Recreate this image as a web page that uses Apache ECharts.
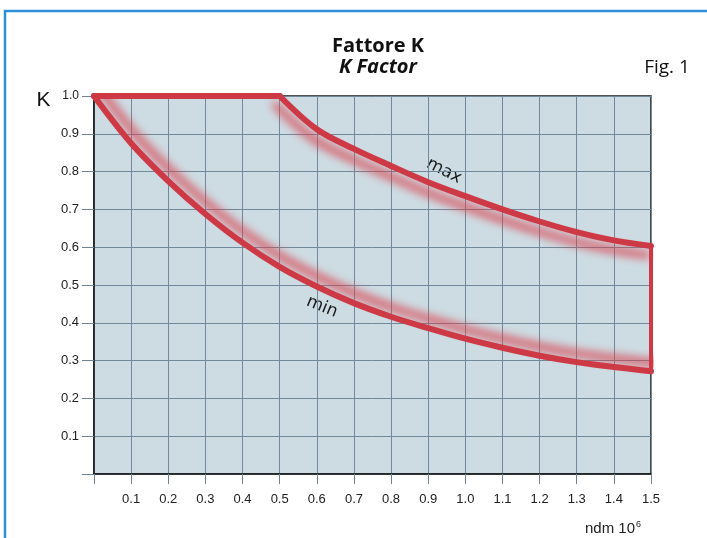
<!DOCTYPE html>
<html><head><meta charset="utf-8">
<script src="https://cdn.jsdelivr.net/npm/echarts@6/dist/echarts.min.js"></script>
<style>html,body{margin:0;padding:0;background:#fff}#c{width:707px;height:538px}</style>
</head><body><div id="c"></div>
<script>
const xTicks = [0,0.1,0.2,0.3,0.4,0.5,0.6,0.7,0.8,0.9,1.0,1.1,1.2,1.3,1.4,1.5];
const minK = [1.0,0.875,0.775,0.688,0.612,0.548,0.496,0.452,0.416,0.386,0.358,0.334,0.313,0.296,0.283,0.272];
const maxK = [1.0,1.0,1.0,1.0,1.0,1.0,0.912,0.86,0.815,0.772,0.735,0.70,0.668,0.64,0.618,0.603];
const yTicks = [0,0.1,0.2,0.3,0.4,0.5,0.6,0.7,0.8,0.9,1.0];

const RED = '#cd3a46';
const minData = xTicks.map((x,i)=>[x,minK[i]]);
const maxAll = xTicks.map((x,i)=>[x,maxK[i]]);
const flatData = maxAll.filter(p=>p[0]<=0.5+1e-9);
const maxData = maxAll.filter(p=>p[0]>=0.5-1e-9);
const endData = [[xTicks[xTicks.length-1], maxK[maxK.length-1]],[xTicks[xTicks.length-1], minK[minK.length-1]]];

const chart = echarts.init(document.getElementById('c'));
const fmt = v => Math.abs(v)<1e-9 ? '' : (+v).toFixed(1);
const lbl = {fontFamily:'Liberation Sans', fontSize:13, color:'#222'};
chart.setOption({
  animation:false,
  title:{
    text:'Fattore K', subtext:'K Factor', left:373, top:31, textAlign:'center', itemGap:1,
    textStyle:{fontFamily:'Open Sans', fontWeight:'bold', fontSize:20, color:'#111'},
    subtextStyle:{fontFamily:'Open Sans', fontWeight:'bold', fontStyle:'italic', fontSize:20, color:'#111'}
  },
  grid:{left:94, right:56, top:96, bottom:64, show:true, backgroundColor:'#cddce3', borderColor:'#1a1a1a', borderWidth:1.5},
  xAxis:{type:'value', min:0, max:1.5, interval:0.1,
    axisLine:{show:true, lineStyle:{color:'#1a1a1a', width:1.5}},
    axisTick:{show:true, length:10, lineStyle:{color:'#6f8391'}},
    axisLabel:Object.assign({formatter:fmt, margin:19}, lbl),
    splitLine:{show:true, lineStyle:{color:'#71899a', width:1}}},
  yAxis:{type:'value', min:0, max:1.0, interval:0.1,
    axisLine:{show:true, lineStyle:{color:'#1a1a1a', width:1.5}},
    axisTick:{show:true, length:12, lineStyle:{color:'#6f8391'}},
    axisLabel:Object.assign({formatter:v => Math.abs(v-1)<1e-9 ? '{s|1.0}' : fmt(v), margin:15,
      rich:{s:{fontFamily:'Liberation Sans', fontSize:12, color:'#222'}}}, lbl),
    splitLine:{show:true, lineStyle:{color:'#71899a', width:1}}},
  series:[
    {type:'line', data:minData, smooth:0.35, symbol:'none', z:3,
     lineStyle:{color:RED, width:6, cap:'round', shadowColor:'rgba(218,60,72,1)', shadowBlur:10, shadowOffsetX:5, shadowOffsetY:-8}},
    {type:'line', data:maxData, smooth:0.35, symbol:'none', z:3,
     lineStyle:{color:RED, width:6, cap:'round', shadowColor:'rgba(218,60,72,1)', shadowBlur:10, shadowOffsetX:-4, shadowOffsetY:9}},
    {type:'line', data:flatData, symbol:'none', z:4,
     lineStyle:{color:RED, width:6, cap:'round'}},
    {type:'line', data:endData, symbol:'none', z:4,
     lineStyle:{color:RED, width:4}}
  ],
  graphic:[
    {type:'rect', shape:{x:5, y:11, width:800, height:700}, style:{fill:'none', stroke:'#2f8fd6', lineWidth:2.5}, silent:true},
    {type:'text', x:43.5, y:100, style:{text:'K', fontFamily:'Liberation Sans', fontSize:21, fill:'#111', align:'center', verticalAlign:'middle'}},
    {type:'text', x:667, y:68, style:{text:'Fig. 1', fontFamily:'Open Sans', fontSize:19, fill:'#111', align:'center', verticalAlign:'middle'}},
    {type:'text', x:585, y:529, style:{text:'{a|ndm 10}{s|6}', align:'left', verticalAlign:'middle',
      rich:{a:{fontSize:15, fontFamily:'Liberation Sans', fill:'#222'}, s:{fontSize:9, fontFamily:'Liberation Sans', fill:'#222', verticalAlign:'top', padding:[0,0,9,1]}}}},
    {type:'text', x:444, y:171, rotation:-27*Math.PI/180, style:{text:'max', fontFamily:'DejaVu Sans', fontSize:17, fill:'#1a1a1a', align:'center', verticalAlign:'middle'}},
    {type:'text', x:322, y:307, rotation:-22*Math.PI/180, style:{text:'min', fontFamily:'DejaVu Sans', fontSize:17, fill:'#1a1a1a', align:'center', verticalAlign:'middle'}}
  ]
});
</script></body></html>
